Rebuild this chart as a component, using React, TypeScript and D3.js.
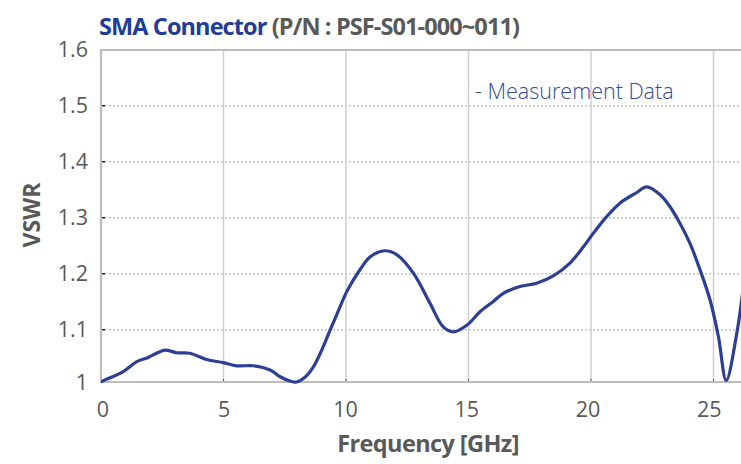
import React from "react";
import * as d3 from "d3";

const freqGHz = [
  0, 0.16, 0.91, 1.46, 1.93, 2.27, 2.61, 3.09, 3.63, 4.31, 4.99, 5.54, 6.22, 6.9,
  7.31, 7.71, 7.99, 8.3, 8.67, 9.0, 9.35, 9.7, 10.03, 10.57, 10.98, 11.59, 12.07,
  12.75, 13.43, 13.97, 14.38, 14.93, 15.47, 16.0, 16.42, 17.1, 17.78, 18.46, 19.14,
  19.69, 20.09, 20.64, 21.18, 21.87, 22.27, 22.82, 23.22, 23.63, 24.04, 24.45,
  24.86, 25.2, 25.52, 25.95, 26.2,
];
const vswr = [
  1.0, 1.004, 1.02, 1.039, 1.047, 1.055, 1.061, 1.056, 1.055, 1.043, 1.037, 1.031,
  1.031, 1.023, 1.01, 1.002, 1.0, 1.008, 1.029, 1.06, 1.099, 1.135, 1.168, 1.207,
  1.23, 1.241, 1.234, 1.201, 1.147, 1.105, 1.096, 1.108, 1.132, 1.15, 1.165, 1.177,
  1.183, 1.196, 1.219, 1.248, 1.272, 1.302, 1.326, 1.345, 1.355, 1.341, 1.32, 1.29,
  1.254, 1.207, 1.153, 1.087, 1.003, 1.093, 1.17,
];

const xTicks = [0, 5, 10, 15, 20, 25];
const yTicks = [1, 1.1, 1.2, 1.3, 1.4, 1.5, 1.6];

const W = 741;
const H = 464;
const left = 101;
const top = 50;
const bottom = 382;

export default function App() {
  const x = d3.scaleLinear().domain([0, 30]).range([left, left + 30 * 24.5]);
  // the lowest gridline band is a bit narrower in the original
  const y = d3.scaleLinear().domain([1, 1.1, 1.6]).range([bottom, 329.7, 49.7]);

  const line = d3
    .line<number>()
    .x((_, i) => x(freqGHz[i]))
    .y((d) => y(d))
    .curve(d3.curveCatmullRom.alpha(0.5));

  const grey = "#595959";
  const font = "'Open Sans', sans-serif";

  return (
    <svg
      width={W}
      height={H}
      style={{ position: "absolute", left: 0, top: 0, background: "#fff" }}
      fontFamily={font}
    >
      <defs>
        <clipPath id="plot">
          <rect x={left} y={top - 2} width={W - left} height={bottom - top + 4} />
        </clipPath>
      </defs>

      {/* title */}
      <text x={99} y={35} fontSize={23.5} fontWeight={700} letterSpacing={-0.9}>
        <tspan fill="#1f3c98">SMA Connector</tspan>
        <tspan fill={grey}> (P/N : PSF-S01-000~011)</tspan>
      </text>

      {/* vertical grid */}
      {xTicks.slice(1).map((t) => (
        <line key={t} x1={x(t)} x2={x(t)} y1={top} y2={bottom} stroke="#cfcfcf" strokeWidth={1.5} />
      ))}
      {/* horizontal grid, dotted */}
      {yTicks.slice(1, -1).map((t) => (
        <g key={t}>
          <line x1={left} x2={W} y1={y(t)} y2={y(t)} stroke="#c4c4c4" strokeWidth={1.5} strokeDasharray="2,2" />
          <line x1={left} x2={left + 4} y1={y(t)} y2={y(t)} stroke="#222" strokeWidth={1.5} />
        </g>
      ))}
      {xTicks.slice(1).map((t) => (
        <line key={t} x1={x(t)} x2={x(t)} y1={bottom - 3} y2={bottom} stroke="#555" strokeWidth={1} />
      ))}

      {/* frame */}
      <path d={`M${W},${top}H${left}V${bottom}H${W}`} fill="none" stroke="#bdbdbd" strokeWidth={2.2} />

      {/* curve */}
      <path d={line(vswr) ?? ""} fill="none" stroke="#2c3f95" strokeWidth={3.2} clipPath="url(#plot)" strokeLinejoin="round" />

      <text x={475} y={99} fontSize={21.5} fill="#2f4a9e" fontWeight={300}>
        - Measurement Data
      </text>

      {/* y axis labels */}
      {yTicks.map((t) => (
        <text key={t} x={88} y={y(t)} dy="0.35em" textAnchor="end" fontSize={21.5} fill={grey}>
          {t === 1 ? "1" : t.toFixed(1)}
        </text>
      ))}
      {/* x axis labels (sit slightly left of their gridlines in the original) */}
      {xTicks.map((t) => (
        <text key={t} x={x(t) + 2 - t * 0.25} y={417} textAnchor="middle" fontSize={21.5} fill={grey}>
          {t}
        </text>
      ))}

      <text x={428} y={452} textAnchor="middle" fontSize={23.5} fontWeight={700} fill={grey} letterSpacing={-0.6}>
        Frequency [GHz]
      </text>
      <text
        transform={`translate(40,215) rotate(-90)`}
        textAnchor="middle"
        fontSize={23}
        fontWeight={700}
        fill={grey}
      >
        VSWR
      </text>
    </svg>
  );
}
